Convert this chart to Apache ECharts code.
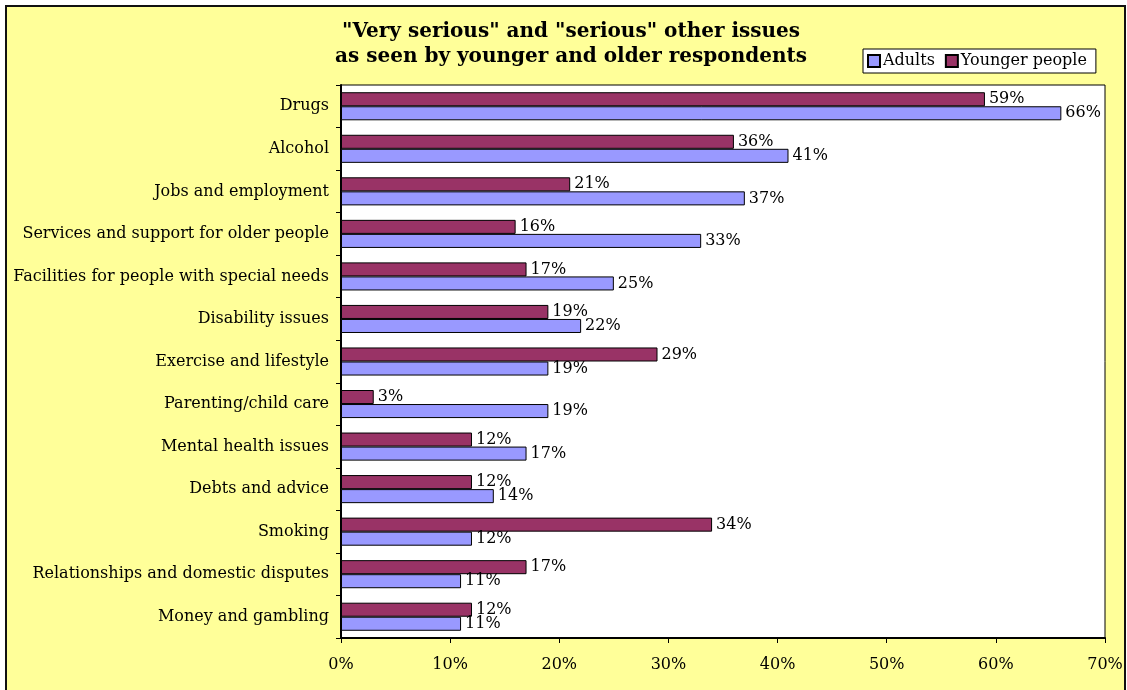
<!DOCTYPE html>
<html>
<head>
<meta charset="utf-8">
<script src="https://cdn.jsdelivr.net/npm/echarts@6/dist/echarts.min.js"></script>
<style>
  html, body { margin: 0; padding: 0; background: #fff; overflow: hidden; }
  #chart { width: 1127px; height: 690px; }
</style>
</head>
<body>
<div id="chart"></div>
<script>
// Issues rated "very serious" or "serious", share of respondents (%)
const categories = [
  'Drugs',
  'Alcohol',
  'Jobs and employment',
  'Services and support for older people',
  'Facilities for people with special needs',
  'Disability issues',
  'Exercise and lifestyle',
  'Parenting/child care',
  'Mental health issues',
  'Debts and advice',
  'Smoking',
  'Relationships and domestic disputes',
  'Money and gambling'
];
const adults = [66, 41, 37, 33, 25, 22, 19, 19, 17, 14, 12, 11, 11];
const youngerPeople = [59, 36, 21, 16, 17, 19, 29, 3, 12, 12, 34, 17, 12];
const xTicks = [0, 10, 20, 30, 40, 50, 60, 70];

const FONT = 'DejaVu Serif';
const chart = echarts.init(document.getElementById('chart'), null, { renderer: 'canvas' });

const labelStyle = {
  show: true,
  position: 'right',
  distance: 4,
  formatter: '{c}%',
  fontFamily: FONT,
  fontSize: 16,
  color: '#000'
};

chart.setOption({
  backgroundColor: '#fff',
  animation: false,
  graphic: [{
    type: 'rect',
    z: -10,
    silent: true,
    shape: { x: 6, y: 6, width: 1119, height: 740 },
    style: { fill: '#FFFF99', stroke: '#111', lineWidth: 2 }
  }],
  title: {
    text: '"Very serious" and "serious" other issues\nas seen by younger and older respondents',
    left: 566,
    top: 14,
    textAlign: 'center',
    textStyle: {
      fontFamily: FONT,
      fontWeight: 'bold',
      fontSize: 20,
      lineHeight: 25,
      color: '#000'
    }
  },
  legend: {
    data: ['Adults', 'Younger people'],
    left: 863,
    top: 49,
    orient: 'horizontal',
    backgroundColor: '#fff',
    borderColor: '#000',
    borderWidth: 1,
    borderRadius: 0,
    padding: [4, 9, 4, 4],
    itemGap: 10,
    itemWidth: 12,
    itemHeight: 12,
    icon: 'rect',
    textStyle: { fontFamily: FONT, fontSize: 16, color: '#000', padding: [0, 0, 0, -2] }
  },
  grid: {
    left: 341,
    right: 22,
    top: 85,
    bottom: 52,
    show: true,
    backgroundColor: '#fff',
    borderColor: '#000',
    borderWidth: 1
  },
  xAxis: {
    type: 'value',
    min: 0,
    max: 70,
    interval: 10,
    axisLine: { show: true, lineStyle: { color: '#000', width: 2 } },
    axisTick: { show: true, length: 5, lineStyle: { color: '#000' } },
    splitLine: { show: false },
    axisLabel: {
      margin: 19,
      fontFamily: FONT,
      fontSize: 16,
      color: '#000',
      formatter: function (v) { return xTicks.indexOf(v) >= 0 ? v + '%' : ''; }
    }
  },
  yAxis: {
    type: 'category',
    data: categories,
    inverse: true,
    axisLine: { show: true, lineStyle: { color: '#000', width: 2 } },
    axisTick: { show: true, length: 5, lineStyle: { color: '#000' } },
    axisLabel: {
      margin: 12,
      fontFamily: FONT,
      fontSize: 16,
      color: '#000'
    }
  },
  series: [
    {
      name: 'Younger people',
      type: 'bar',
      data: youngerPeople,
      barGap: '0%',
      barCategoryGap: '34%',
      itemStyle: { color: '#993366', borderColor: '#000', borderWidth: 1 },
      label: labelStyle
    },
    {
      name: 'Adults',
      type: 'bar',
      data: adults,
      barGap: '0%',
      barCategoryGap: '34%',
      itemStyle: { color: '#9999FF', borderColor: '#000', borderWidth: 1 },
      label: labelStyle
    }
  ]
});
</script>
</body>
</html>
